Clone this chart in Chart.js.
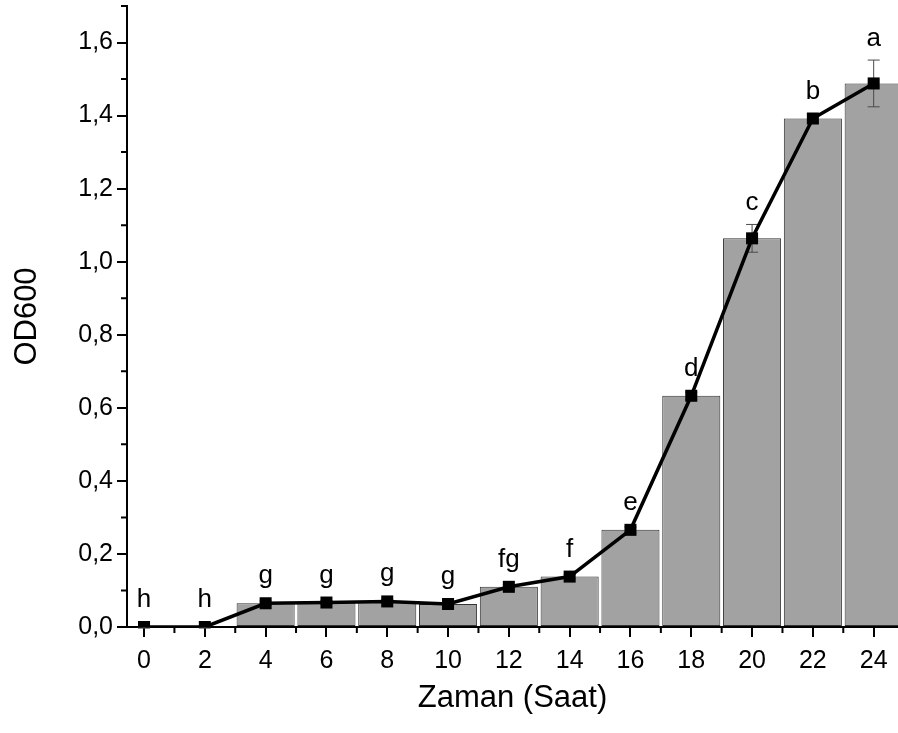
<!DOCTYPE html>
<html>
<head>
<meta charset="utf-8">
<script src="https://cdn.jsdelivr.net/npm/chart.js@4.4.0/dist/chart.umd.min.js"></script>
<style>
  html, body { margin: 0; padding: 0; background: #fff; }
  #wrap { width: 898px; height: 733px; }
</style>
</head>
<body>
<div id="wrap"><canvas id="growthChart" width="898" height="733"></canvas></div>
<script>
// OD600 over time, bars + line with group letters
const hours = [0, 2, 4, 6, 8, 10, 12, 14, 16, 18, 20, 22, 24];
const meanOD = [0.0, 0.0, 0.065, 0.067, 0.07, 0.063, 0.11, 0.138, 0.266, 0.633, 1.064, 1.392, 1.488];
const errOD = [0.003, 0.003, 0.006, 0.005, 0.005, 0.005, 0.006, 0.006, 0.008, 0.01, 0.038, 0.012, 0.064];
const groupLetters = ['h', 'h', 'g', 'g', 'g', 'g', 'fg', 'f', 'e', 'd', 'c', 'b', 'a'];
const xMajorTicks = [0, 2, 4, 6, 8, 10, 12, 14, 16, 18, 20, 22, 24];
const xMinorTicks = [1, 3, 5, 7, 9, 11, 13, 15, 17, 19, 21, 23];
const yMajorTicks = [0, 0.2, 0.4, 0.6, 0.8, 1.0, 1.2, 1.4, 1.6];
const yMinorTicks = [0.1, 0.3, 0.5, 0.7, 0.9, 1.1, 1.3, 1.5, 1.7];

const FONT = '"Liberation Sans", Arial, sans-serif';

const points = hours.map((h, i) => ({ x: h, y: meanOD[i] }));

// error bars go between the bars and the line
const errorBarsPlugin = {
    id: 'errorBars',
    afterDatasetDraw(chart, args) {
        if (args.index !== 1) return;
        const { ctx, scales: { x, y } } = chart;
        ctx.save();
        ctx.strokeStyle = '#4a4a4a';
        ctx.lineWidth = 1;
        hours.forEach((h, i) => {
            const px = x.getPixelForValue(h);
            const top = y.getPixelForValue(meanOD[i] + errOD[i]);
            const bot = y.getPixelForValue(meanOD[i] - errOD[i]);
            ctx.beginPath();
            ctx.moveTo(px, top); ctx.lineTo(px, bot);
            ctx.moveTo(px - 6, top); ctx.lineTo(px + 6, top);
            ctx.moveTo(px - 6, bot); ctx.lineTo(px + 6, bot);
            ctx.stroke();
        });
        ctx.restore();
    }
};

// minor ticks + letters above points
const extrasPlugin = {
    id: 'extras',
    afterDraw(chart) {
        const { ctx, chartArea, scales: { x, y } } = chart;
        ctx.save();
        ctx.strokeStyle = '#000';
        ctx.lineWidth = 2;
        ctx.beginPath();
        xMinorTicks.forEach(v => {
            const px = x.getPixelForValue(v);
            ctx.moveTo(px, chartArea.bottom);
            ctx.lineTo(px, chartArea.bottom + 6);
        });
        yMinorTicks.forEach(v => {
            const py = y.getPixelForValue(v);
            ctx.moveTo(chartArea.left, py);
            ctx.lineTo(chartArea.left - 6, py);
        });
        ctx.stroke();

        ctx.fillStyle = '#000';
        ctx.font = '26px ' + FONT;
        ctx.textAlign = 'center';
        ctx.textBaseline = 'alphabetic';
        hours.forEach((h, i) => {
            const px = x.getPixelForValue(h);
            const markerTop = y.getPixelForValue(meanOD[i]) - 6;
            const errTop = y.getPixelForValue(meanOD[i] + errOD[i]);
            ctx.fillText(groupLetters[i], px, Math.min(markerTop, errTop) - 14);
        });
        ctx.restore();
    }
};

const ctx = document.getElementById('growthChart').getContext('2d');
new Chart(ctx, {
    type: 'bar',
    data: {
        datasets: [
            {
                type: 'line',
                data: points,
                borderColor: '#000',
                borderWidth: 3.5,
                tension: 0,
                pointStyle: 'rect',
                pointRadius: 8.5,
                pointBackgroundColor: '#000',
                pointBorderColor: '#000',
                pointBorderWidth: 0,
                order: 0
            },
            {
                type: 'bar',
                data: points,
                backgroundColor: '#a2a2a2',
                borderColor: '#333',
                borderWidth: 1,
                borderSkipped: false,
                categoryPercentage: 1.0,
                barPercentage: 0.955,
                order: 1
            }
        ]
    },
    options: {
        responsive: false,
        animation: false,
        devicePixelRatio: 1,
        layout: { autoPadding: false, padding: { top: 6, right: 0, left: 0, bottom: 0 } },
        plugins: {
            legend: { display: false },
            tooltip: { enabled: false }
        },
        scales: {
            x: {
                type: 'linear',
                min: -0.56,
                max: 24.8,
                offset: false,
                afterBuildTicks: axis => {
                    axis.ticks = xMajorTicks.map(v => ({ value: v }));
                },
                afterFit: axis => {
                    axis.height = 106;
                    axis.paddingLeft = 0;
                    axis.paddingRight = 0;
                },
                ticks: {
                    color: '#000',
                    font: { family: FONT, size: 25 },
                    padding: 9,
                    maxRotation: 0,
                    autoSkip: false
                },
                grid: {
                    offset: false,
                    drawOnChartArea: false,
                    tickLength: 10,
                    tickColor: '#000',
                    lineWidth: 2
                },
                border: { color: '#000', width: 2 },
                title: {
                    display: true,
                    text: 'Zaman (Saat)',
                    color: '#000',
                    font: { family: FONT, size: 31 },
                    padding: { top: 0, bottom: 16 }
                }
            },
            y: {
                min: 0,
                max: 1.7,
                afterBuildTicks: axis => {
                    axis.ticks = yMajorTicks.map(v => ({ value: v }));
                },
                afterFit: axis => {
                    axis.width = 127;
                    axis.paddingTop = 0;
                    axis.paddingBottom = 0;
                },
                ticks: {
                    color: '#000',
                    font: { family: FONT, size: 25 },
                    padding: 4,
                    callback: v => v.toFixed(1).replace('.', ',')
                },
                grid: {
                    drawOnChartArea: false,
                    tickLength: 10,
                    tickColor: '#000',
                    lineWidth: 2
                },
                border: { color: '#000', width: 2 },
                title: {
                    display: true,
                    text: 'OD600',
                    color: '#000',
                    font: { family: FONT, size: 31 },
                    padding: { top: 9, bottom: 0 }
                }
            }
        }
    },
    plugins: [errorBarsPlugin, extrasPlugin]
});
</script>
</body>
</html>
